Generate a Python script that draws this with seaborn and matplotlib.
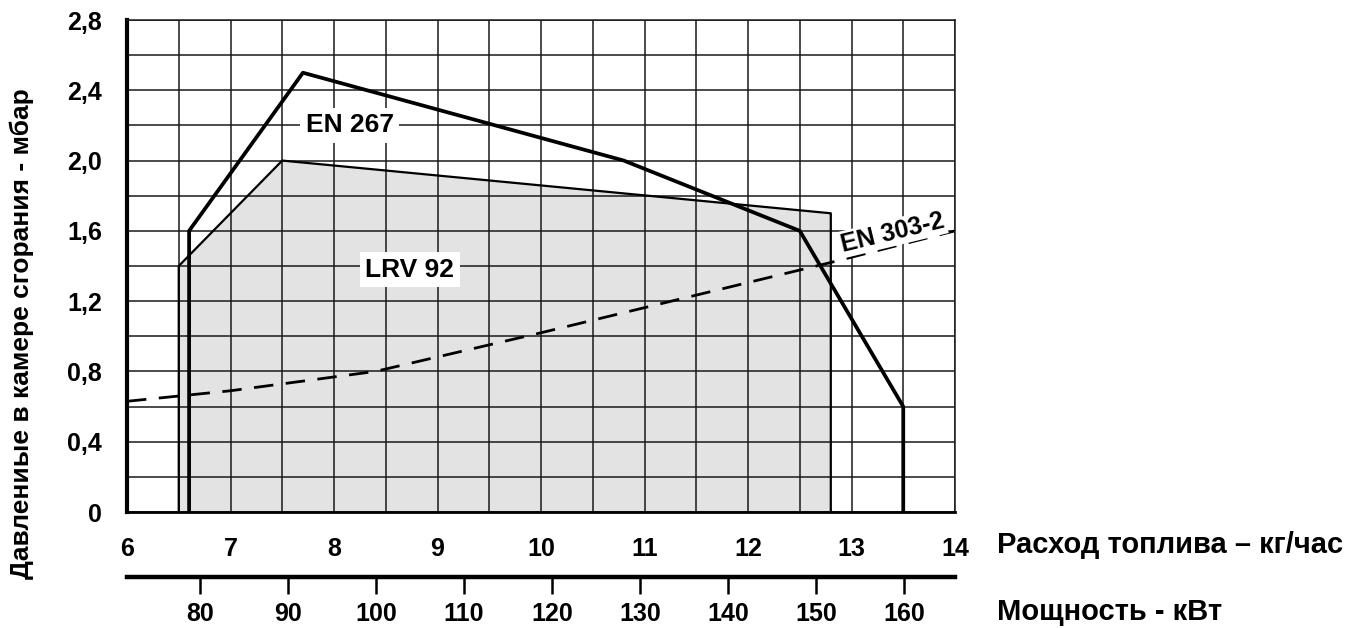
import numpy as np
import pandas as pd
import matplotlib
matplotlib.use('Agg')
import matplotlib.pyplot as plt
import matplotlib.ticker as mticker
import seaborn as sns

# fuel flow (kg/h) -> combustion chamber pressure (mbar)
lrv92_x = [6.5, 6.5, 7.5, 12.8, 12.8]
lrv92_y = [0.0, 1.4, 2.0, 1.7, 0.0]
en267_x = [6.6, 6.6, 7.7, 10.8, 12.5, 13.5, 13.5]
en267_y = [0.0, 1.6, 2.5, 2.0, 1.6, 0.6, 0.0]
en303_x = [6.0, 7.0, 8.4, 10.0, 12.8, 14.0]
en303_y = [0.63, 0.69, 0.80, 1.02, 1.42, 1.60]

x_ticks = [6, 7, 8, 9, 10, 11, 12, 13, 14]
y_ticks = [0, 0.4, 0.8, 1.2, 1.6, 2.0, 2.4, 2.8]
y_tick_labels = ['0', '0,4', '0,8', '1,2', '1,6', '2,0', '2,4', '2,8']
kw_ticks = [80, 90, 100, 110, 120, 130, 140, 150, 160]

# power scale under the fuel axis: kW = a * kg/h + b
KW_PER_KG = 11.76
KW_OFFSET = 1.14


def kg_to_kw(x):
    return KW_PER_KG * np.asarray(x, dtype=float) + KW_OFFSET


def kw_to_kg(p):
    return (np.asarray(p, dtype=float) - KW_OFFSET) / KW_PER_KG


TICK_SIZE = 18

sns.set_theme(style='white')
plt.rcParams['font.family'] = ['Liberation Sans', 'DejaVu Sans']
plt.rcParams['font.weight'] = 'bold'
plt.rcParams['xtick.labelsize'] = TICK_SIZE
plt.rcParams['ytick.labelsize'] = TICK_SIZE
plt.rcParams['text.color'] = 'black'
plt.rcParams['xtick.color'] = 'black'
plt.rcParams['ytick.color'] = 'black'
plt.rcParams['axes.labelcolor'] = 'black'

fig = plt.figure(figsize=(13.52, 6.28), dpi=100)
ax = fig.add_axes([127 / 1352, 1 - 512 / 628, (955 - 127) / 1352, (512 - 20) / 628])

ax.fill_between(lrv92_x, lrv92_y, 0, color='#e3e3e3', lw=0, zorder=0.3)
sns.lineplot(x=lrv92_x, y=lrv92_y, sort=False, estimator=None, ax=ax,
             color='black', lw=1.6, zorder=2)
sns.lineplot(x=en267_x, y=en267_y, sort=False, estimator=None, ax=ax,
             color='black', lw=2.7, zorder=2.2)
sns.lineplot(x=en303_x, y=en303_y, sort=False, estimator=None, ax=ax,
             color='black', lw=2.0, zorder=2.1)
ax.lines[-1].set_dashes((7, 4.5))

ax.set_xlim(6, 14)
ax.set_ylim(0, 2.8)
ax.set_xticks(x_ticks)
ax.set_yticks(y_ticks)
ax.set_yticklabels(y_tick_labels, fontsize=TICK_SIZE, fontweight='bold', color='black')
ax.set_xticklabels([str(v) for v in x_ticks], fontsize=TICK_SIZE, fontweight='bold',
                   color='black')
ax.xaxis.set_minor_locator(mticker.MultipleLocator(0.5))
ax.yaxis.set_minor_locator(mticker.MultipleLocator(0.2))
ax.set_axisbelow(True)
ax.grid(True, which='both', color='#1a1a1a', lw=1.1)
ax.tick_params(axis='both', which='major', direction='out', length=10, width=1.1,
               color='#1a1a1a')
ax.tick_params(axis='x', which='major', pad=8)
ax.tick_params(axis='y', which='major', pad=8)
ax.tick_params(which='minor', length=0)

for side in ['top', 'right']:
    ax.spines[side].set_linewidth(1.1)
    ax.spines[side].set_color('#1a1a1a')
ax.spines['left'].set_linewidth(3)
ax.spines['left'].set_color('black')
ax.spines['bottom'].set_linewidth(2)
ax.spines['bottom'].set_color('black')

box = dict(facecolor='white', edgecolor='none', pad=4)
ax.text(8.15, 2.2, 'EN 267', fontsize=19, fontweight='bold', ha='center',
        va='center', color='black', bbox=box, zorder=3)
ax.text(8.73, 1.38, 'LRV 92', fontsize=19, fontweight='bold', ha='center',
        va='center', color='black', bbox=box, zorder=3)
ax.text(13.4, 1.59, 'EN 303-2', fontsize=18, fontweight='bold', ha='center',
        va='center', rotation=13.6, rotation_mode='anchor', color='black',
        bbox=dict(facecolor='white', edgecolor='none', pad=1), zorder=3)

sec = ax.secondary_xaxis(-0.132, functions=(kg_to_kw, kw_to_kg))
sec.set_xticks(kw_ticks)
sec.set_xticklabels([str(v) for v in kw_ticks], fontsize=TICK_SIZE, fontweight='bold',
                    color='black')
sec.spines['bottom'].set_linewidth(3.2)
sec.spines['bottom'].set_color('black')
sec.tick_params(axis='x', direction='out', length=12, width=1.8, color='black', pad=6)

fig.text(22 / 1352, 1 - 334 / 628, 'Давлениые в камере сгорания - мбар',
         rotation=90, ha='center', va='center', fontsize=19, fontweight='bold',
         color='black')
fig.text(997 / 1352, 1 - 545 / 628, 'Расход топлива – кг/час',
         ha='left', va='center', fontsize=21, fontweight='bold', color='black')
fig.text(997 / 1352, 1 - 612 / 628, 'Мощность - кВт',
         ha='left', va='center', fontsize=21, fontweight='bold', color='black')

fig.savefig('out.png', dpi=100)
